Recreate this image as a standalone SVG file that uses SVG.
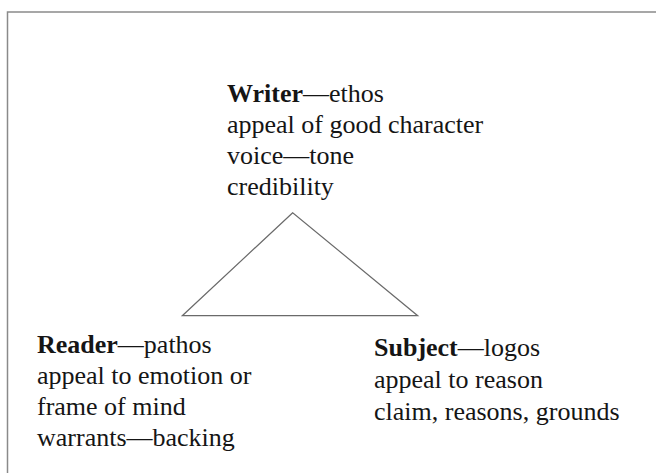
<svg xmlns="http://www.w3.org/2000/svg" width="656" height="475" viewBox="0 0 656 475">
<style>
text{font-family:'Liberation Serif','Times New Roman',Times,'DejaVu Serif',serif;font-size:26px;fill:#151515}
.b{font-weight:bold}
.frame{fill:none;stroke:#8a8a8a;stroke-width:1.5}
.edge{fill:none;stroke:#6a6a6a;stroke-width:1.2}
</style>
<rect width="656" height="475" fill="#ffffff"/>
<polyline class="frame" points="7.5,473 7.5,12 656,12"/>
<g id="connectors">
<polygon class="edge" points="292.7,212.7 182.3,315.7 417.7,315.7"/>
</g>
<g id="writer" font-family="Liberation Serif, serif">
<text x="227" y="102"><tspan class="b">Writer</tspan>—ethos</text>
<text x="227" y="133">appeal of good character</text>
<text x="227" y="164">voice—tone</text>
<text x="227" y="195">credibility</text>
</g>
<g id="reader" font-family="Liberation Serif, serif">
<text x="37" y="353"><tspan class="b">Reader</tspan>—pathos</text>
<text x="37" y="384">appeal to emotion or</text>
<text x="37" y="415">frame of mind</text>
<text x="37" y="446">warrants—backing</text>
</g>
<g id="subject" font-family="Liberation Serif, serif">
<text x="374" y="356"><tspan class="b">Subject</tspan>—logos</text>
<text x="374" y="388">appeal to reason</text>
<text x="374" y="420">claim, reasons, grounds</text>
</g>
</svg>
